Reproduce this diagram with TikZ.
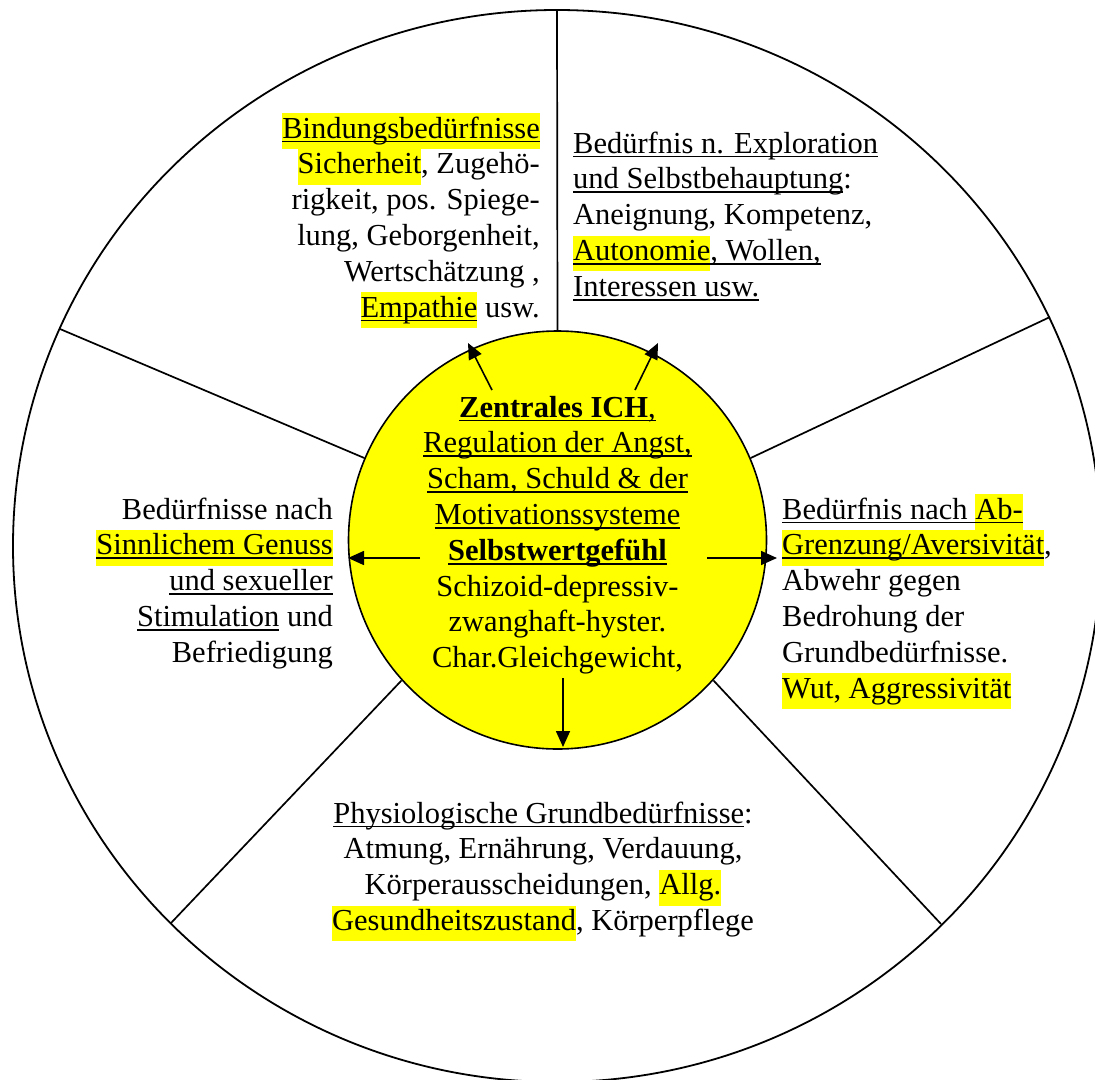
\documentclass[tikz,border=0pt]{standalone}
\usepackage{fontspec}
\setmainfont{Liberation Serif}
\usetikzlibrary{arrows.meta}
\definecolor{marker}{RGB}{255,255,0}
% highlighted word (full line height) and underlined word
\newcommand\hl[1]{{\setlength{\fboxsep}{0pt}\colorbox{marker}{\strut#1}}}
\newcommand\ul[1]{{\setbox0=\hbox{#1}\rlap{\rule[-4.3pt]{\wd0}{1.9pt}}\box0}}
\tikzset{
  txt/.style={inner sep=0pt, font=\fontsize{30.5}{35.8}\selectfont},
  spoke/.style={line width=1.7pt},
  pointer/.style={line width=1.6pt, -{Triangle[length=16pt,width=14pt]}},
}
\begin{document}
\begin{tikzpicture}[x=1pt,y=-1pt]
\useasboundingbox (0,0) rectangle (1095,1079);
\fill[white] (0,0) rectangle (1095,1079);
\clip (0,0) rectangle (1095,1079);

% outer ring
\draw[line width=1.8pt] (557,546) ellipse [x radius=544pt, y radius=536pt];

% central circle
\node[circle, draw, line width=1.6pt, fill=marker, minimum size=418pt, inner sep=0pt] (ich) at (557.5,540) {};

% outer ends of the spokes
\coordinate (o1) at (557,10);
\coordinate (o2) at (60,329);
\coordinate (o3) at (1050,317);
\coordinate (o4) at (171,923);
\coordinate (o5) at (941,924);
\draw[spoke] (ich.90) -- (o1);
\draw[spoke] (ich.157) -- (o2);
\draw[spoke] (ich.23) -- (o3);
\draw[spoke] (ich.222) -- (o4);
\draw[spoke] (ich.318) -- (o5);

% arrows leaving the centre
\coordinate (aLs) at (420,558); \coordinate (aLe) at (348,558);
\coordinate (aRs) at (707,558); \coordinate (aRe) at (777,558);
\coordinate (aDs) at (563,678); \coordinate (aDe) at (563,747);
\coordinate (aULs) at (492,390); \coordinate (aULe) at (468,343);
\coordinate (aURs) at (635,390); \coordinate (aURe) at (658,343);
\draw[pointer] (aLs) -- (aLe);
\draw[pointer] (aRs) -- (aRe);
\draw[pointer] (aDs) -- (aDe);
\draw[pointer] (aULs) -- (aULe);
\draw[pointer] (aURs) -- (aURe);

% centre text
\node[txt, align=center, anchor=north] (core) at (557.5,391.9) {%
\strut\ul{\textbf{Zentrales ICH},}\\
\strut\ul{Regulation der Angst,}\\
\strut\ul{Scham, Schuld \& der}\\
\strut\ul{Motivationssysteme}\\
\strut\ul{\textbf{Selbstwertgefühl}}\\
\strut Schizoid-depressiv-\\
\strut zwanghaft-hyster.\\
\strut Char.Gleichgewicht,};

% attachment needs
\node[txt, align=right, anchor=north east] (bind) at (540,112.9) {%
\strut\hl{\ul{Bindungsbedürfnisse}}\\
\strut\hl{Sicherheit}, Zugehö-\\
\strut rigkeit, pos. Spiege-\\
\strut lung, Geborgenheit,\\
\strut Wertschätzung ,\\
\strut\hl{\ul{Empathie}} usw.};

% exploration needs
\node[txt, align=left, anchor=north west] (expl) at (573,127.9) {%
\strut\ul{Bedürfnis n. Exploration}\\
\strut\ul{und Selbstbehauptung}:\\
\strut Aneignung, Kompetenz,\\
\strut\hl{\ul{Autonomie}}\ul{, Wollen,}\\
\strut\ul{Interessen usw.}};

% sensual needs
\node[txt, align=right, anchor=north east] (sinn) at (333,493.9) {%
\strut Bedürfnisse nach\\
\strut\hl{\ul{Sinnlichem Genuss}}\\
\strut\ul{und sexueller}\\
\strut\ul{Stimulation} und\\
\strut Befriedigung};

% aversive needs
\node[txt, align=left, anchor=north west] (abgr) at (782,493.9) {%
\strut\ul{Bedürfnis nach }\hl{\ul{Ab-}}\\
\strut\hl{\ul{Grenzung/Aversivität}},\\
\strut Abwehr gegen\\
\strut Bedrohung der\\
\strut Grundbedürfnisse.\\
\strut\hl{Wut, Aggressivität}};

% physiological needs
\node[txt, align=center, anchor=north] (phys) at (543,797.9) {%
\strut\ul{Physiologische Grundbedürfnisse}:\\
\strut Atmung, Ernährung, Verdauung,\\
\strut Körperausscheidungen, \hl{Allg.}\\
\strut\hl{Gesundheitszustand}, Körperpflege};
\end{tikzpicture}
\end{document}
